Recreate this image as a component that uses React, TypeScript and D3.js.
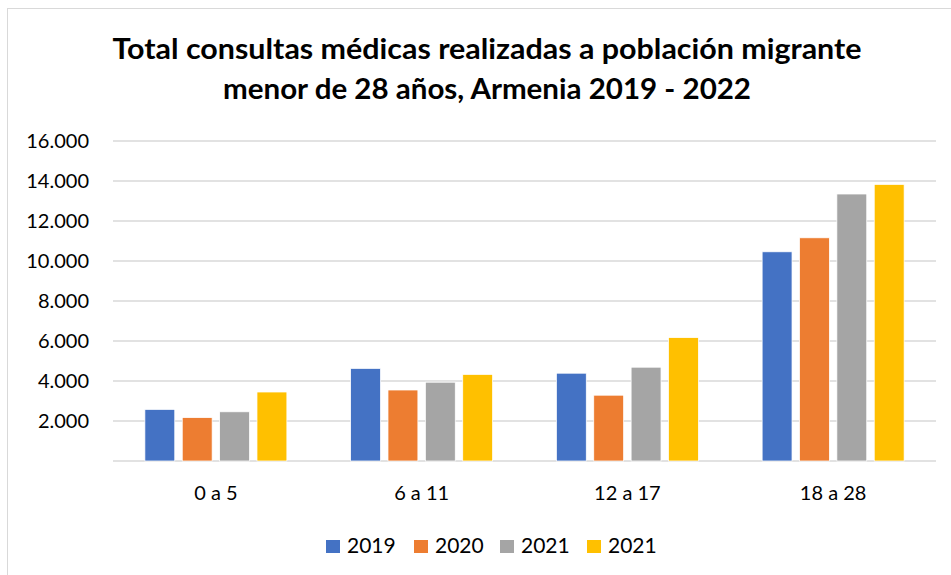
import React from "react";
import * as d3 from "d3";

const categories = ["0 a 5", "6 a 11", "12 a 17", "18 a 28"];
const seriesNames = ["2019", "2020", "2021", "2021"];
const seriesColors = ["#4472C4", "#ED7D31", "#A5A5A5", "#FFC000"];
const values2019 = [2580, 4630, 4390, 10460];
const values2020 = [2170, 3550, 3290, 11160];
const values2021a = [2460, 3940, 4690, 13350];
const values2021b = [3450, 4330, 6170, 13830];
const seriesValues = [values2019, values2020, values2021a, values2021b];
const yTicks = [2000, 4000, 6000, 8000, 10000, 12000, 14000, 16000];
const titleLines = [
  "Total consultas médicas realizadas a población migrante",
  "menor de 28 años, Armenia 2019 - 2022",
];

const W = 951;
const H = 575;
const plot = { left: 113, right: 936, top: 141, bottom: 461 };
const FONT = "Lato, 'Open Sans', sans-serif";

export default function App() {
  const x0 = d3
    .scaleBand<string>()
    .domain(categories)
    .range([plot.left, plot.right])
    .paddingInner(0)
    .paddingOuter(0);
  const groupW = 142;
  const x1 = d3
    .scaleBand<number>()
    .domain(d3.range(seriesNames.length))
    .range([0, groupW])
    .paddingInner(0.2);
  const y = d3.scaleLinear().domain([0, 16000]).range([plot.bottom, plot.top]);
  const fmt = (v: number) => d3.format(",")(v).replace(/,/g, ".");

  const legendX = [326, 414, 500, 587];
  const titleWidths = [749, 528];

  return (
    <svg
      width={W}
      height={H}
      style={{ position: "absolute", left: 0, top: 0, background: "#fff" }}
    >
      <rect x={7.5} y={8.5} width={1000} height={1000} fill="#fff" stroke="#D9D9D9" strokeWidth={1} />
      {titleLines.map((t, i) => (
        <text
          key={i}
          x={487}
          y={59 + i * 40}
          textAnchor="middle"
          fontFamily={FONT}
          fontWeight={700}
          fontSize={28}
          textLength={titleWidths[i]}
          lengthAdjust="spacingAndGlyphs"
          fill="#000"
        >
          {t}
        </text>
      ))}
      {yTicks.map((t) => (
        <g key={t}>
          <line x1={plot.left} x2={plot.right} y1={y(t)} y2={y(t)} stroke="#D9D9D9" strokeWidth={1.5} />
          <text
            x={89}
            y={y(t) + 7}
            textAnchor="end"
            fontFamily={FONT}
            fontSize={20}
            fill="#000"
          >
            {fmt(t)}
          </text>
        </g>
      ))}
      <line x1={plot.left} x2={plot.right} y1={y(0)} y2={y(0)} stroke="#D9D9D9" strokeWidth={1.5} />
      {categories.map((c, ci) => {
        const gx = (x0(c) as number) + (x0.bandwidth() - groupW) / 2;
        return (
          <g key={c}>
            {seriesValues.map((vals, si) => (
              <rect
                key={si}
                x={gx + (x1(si) as number)}
                y={y(vals[ci])}
                width={x1.bandwidth()}
                height={y(0) - y(vals[ci])}
                fill={seriesColors[si]}
                stroke="#fff"
                strokeWidth={0.75}
              />
            ))}
            <text
              x={(x0(c) as number) + x0.bandwidth() / 2}
              y={500}
              textAnchor="middle"
              fontFamily={FONT}
              fontSize={20}
              fill="#000"
            >
              {c}
            </text>
          </g>
        );
      })}
      {seriesNames.map((n, i) => (
        <g key={i}>
          <rect x={legendX[i]} y={540} width={14} height={13} fill={seriesColors[i]} />
          <text x={legendX[i] + 21} y={553} fontFamily={FONT} fontSize={21} fill="#000">
            {n}
          </text>
        </g>
      ))}
    </svg>
  );
}
